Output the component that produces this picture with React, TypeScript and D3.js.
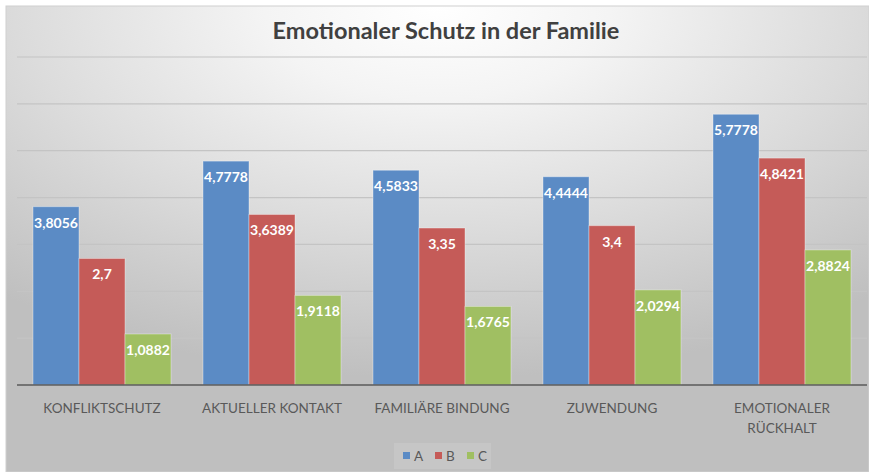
import React from "react";
import * as d3 from "d3";

const categories: string[][] = [
  ["KONFLIKTSCHUTZ"],
  ["AKTUELLER KONTAKT"],
  ["FAMILIÄRE BINDUNG"],
  ["ZUWENDUNG"],
  ["EMOTIONALER", "RÜCKHALT"],
];
const seriesNames = ["A", "B", "C"];
const valuesA = [3.8056, 4.7778, 4.5833, 4.4444, 5.7778];
const valuesB = [2.7, 3.6389, 3.35, 3.4, 4.8421];
const valuesC = [1.0882, 1.9118, 1.6765, 2.0294, 2.8824];
const gridTicks = [1, 2, 3, 4, 5, 6, 7];
const title = "Emotionaler Schutz in der Familie";

const colors = ["#5b8bc5", "#c55b58", "#a0bf62"];
const W = 869;
const H = 472;

export default function App() {
  const series = [valuesA, valuesB, valuesC];
  const left = 17, right = 867, top = 57, bottom = 385;
  const x0 = d3.scaleBand<number>().domain(d3.range(categories.length)).range([left, right]).paddingInner(32 / 170).paddingOuter(16 / 170);
  const x1 = d3.scaleBand<number>().domain([0, 1, 2]).range([0, x0.bandwidth()]).padding(0);
  const y = d3.scaleLinear().domain([0, 7]).range([bottom, top]);
  const fmt = (v: number) => String(v).replace(".", ",");
  const font = "Lato, 'Open Sans', sans-serif";

  return (
    <svg width={W} height={H} style={{ position: "absolute", left: 0, top: 0 }}>
      <defs>
        <radialGradient id="bg" cx="50%" cy="0%" r="80%" fx="50%" fy="0%">
          <stop offset="0" stopColor="#ffffff" />
          <stop offset="0.25" stopColor="#f4f4f4" />
          <stop offset="0.6" stopColor="#dcdcdc" />
          <stop offset="1" stopColor="#bfbfbf" />
        </radialGradient>
      </defs>
      <rect x={0} y={0} width={W} height={H} fill="#ffffff" />
      <rect x={6} y={6} width={W - 6} height={H - 6} fill="url(#bg)" stroke="#d0d0d0" strokeWidth={1} />
      <text x={446} y={39} textAnchor="middle" fontFamily={font} fontWeight={700} fontSize={23.5} fill="#404040">
        {title}
      </text>
      {gridTicks.map((t) => (
        <line key={t} x1={left} x2={right} y1={y(t)} y2={y(t)} stroke="#c4c4c4" strokeWidth={1.2} />
      ))}
      {categories.map((cat, i) =>
        series.map((vals, s) => {
          const bx = (x0(i) as number) + (x1(s) as number);
          const bw = x1.bandwidth();
          const by = y(vals[i]);
          return (
            <g key={`${i}-${s}`}>
              <rect x={bx} y={by} width={bw} height={bottom - by} fill={colors[s]} stroke="#ffffff" strokeOpacity={0.35} strokeWidth={1} />
              <text x={bx + bw / 2} y={by + 21} textAnchor="middle" fontFamily={font} fontWeight={700} fontSize={14} fill="#ffffff">
                {fmt(vals[i])}
              </text>
            </g>
          );
        })
      )}
      <line x1={left} x2={right} y1={bottom} y2={bottom} stroke="#5a5a5a" strokeWidth={1.5} />
      {categories.map((cat, i) => (
        <text key={i} textAnchor="middle" fontFamily={font} fontSize={13.5} fill="#595959">
          {cat.map((line, j) => (
            <tspan key={j} x={(x0(i) as number) + x0.bandwidth() / 2} y={413 + j * 20}>
              {line}
            </tspan>
          ))}
        </text>
      ))}
      <rect x={394} y={443} width={97} height={26} fill="#ffffff" fillOpacity={0.12} />
      {seriesNames.map((n, s) => (
        <g key={n} transform={`translate(${403 + s * 32},0)`}>
          <rect x={0} y={452} width={7} height={7} fill={colors[s]} />
          <text x={11} y={461} fontFamily={font} fontSize={13.5} fill="#595959">
            {n}
          </text>
        </g>
      ))}
    </svg>
  );
}
